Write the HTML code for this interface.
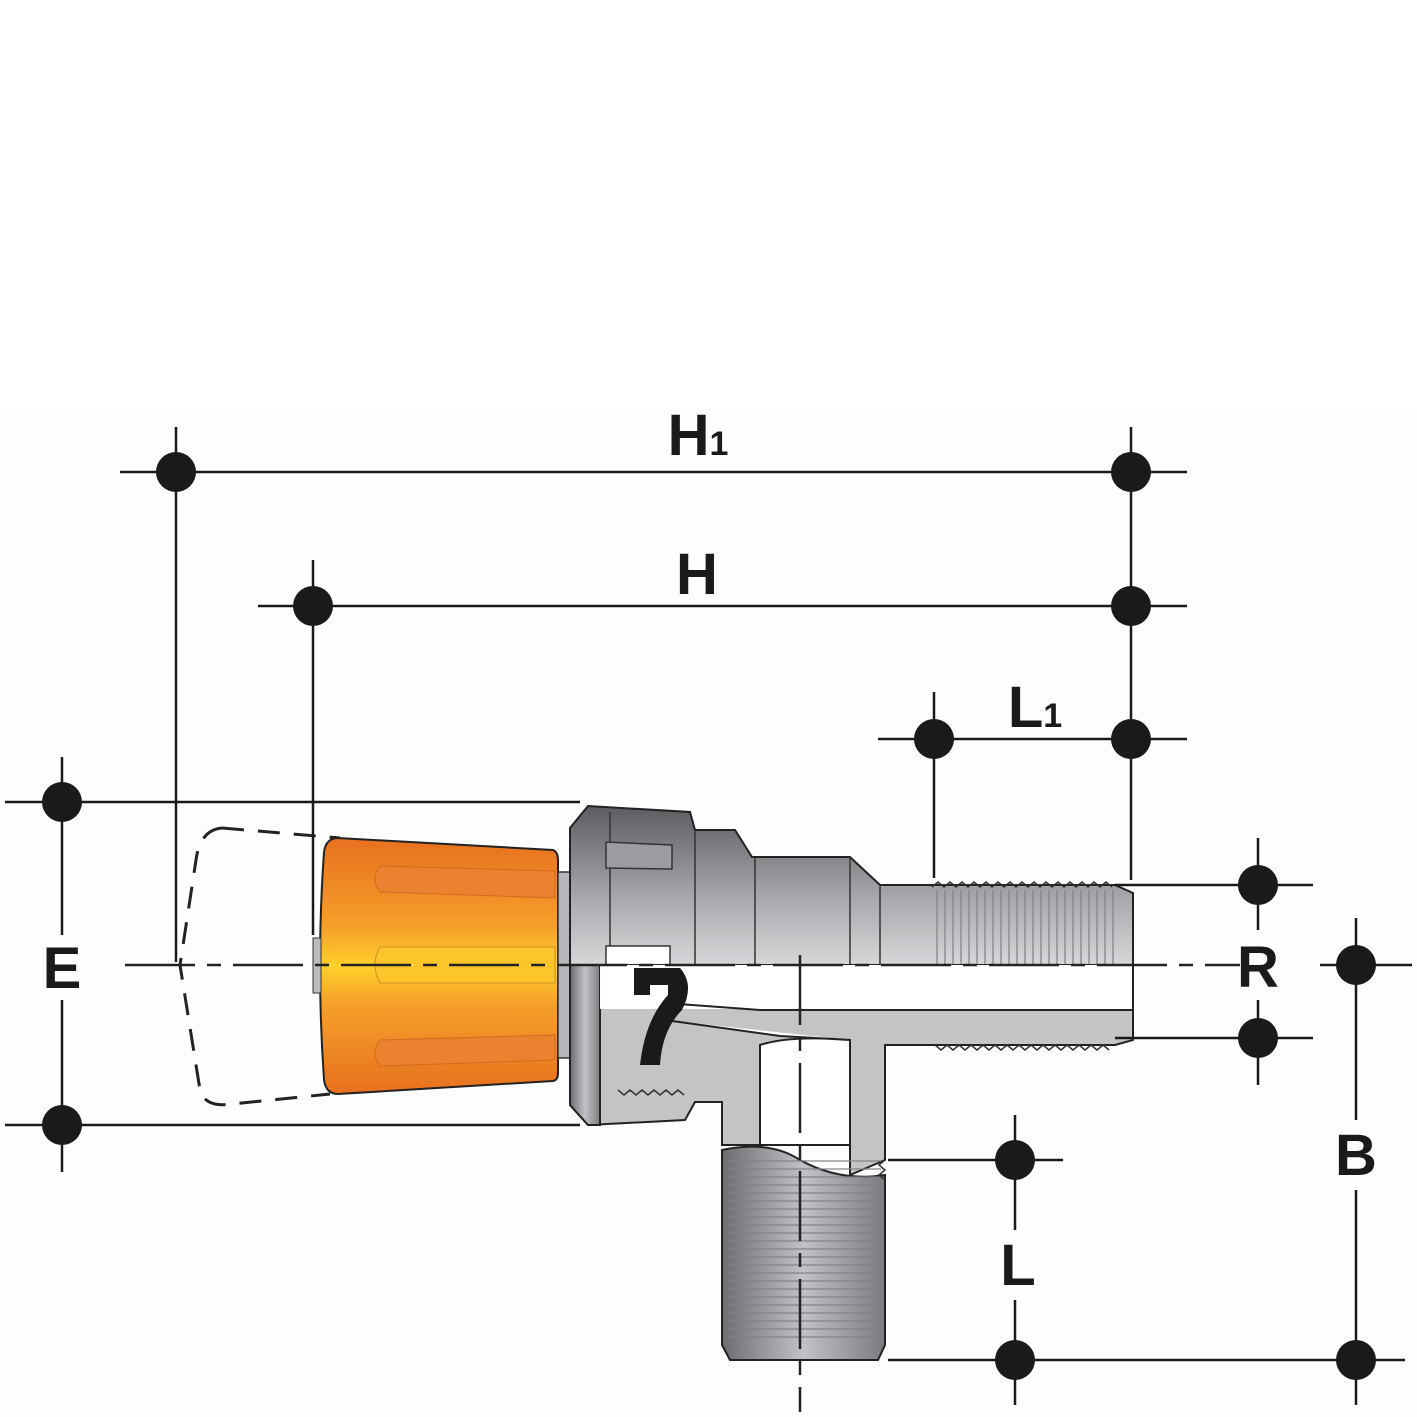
<!DOCTYPE html>
<html><head><style>html,body{margin:0;padding:0;background:#fff}svg{display:block}</style></head>
<body>
<svg width="1417" height="1417" viewBox="0 0 1417 1417" xmlns="http://www.w3.org/2000/svg">
<defs>
<linearGradient id="or" x1="0" y1="0" x2="0" y2="1">
<stop offset="0" stop-color="#e8701f"/><stop offset="0.35" stop-color="#f5a02a"/><stop offset="0.5" stop-color="#ffd02a"/><stop offset="0.65" stop-color="#f5a02a"/><stop offset="1" stop-color="#e8701f"/></linearGradient>
<linearGradient id="gr" x1="0" y1="0" x2="0" y2="1">
<stop offset="0" stop-color="#5a5c5f"/><stop offset="0.6" stop-color="#a9abae"/><stop offset="1" stop-color="#d6d7d9"/></linearGradient>
<linearGradient id="gv" x1="0" y1="0" x2="1" y2="0">
<stop offset="0" stop-color="#6a6c6f"/><stop offset="0.5" stop-color="#c0c2c5"/><stop offset="1" stop-color="#7a7c7f"/></linearGradient>
<pattern id="th" width="8" height="10" patternUnits="userSpaceOnUse"><line x1="1" y1="0" x2="1" y2="10" stroke="#7f8184" stroke-width="1.2"/></pattern>
<pattern id="thv" width="10" height="8" patternUnits="userSpaceOnUse"><line x1="0" y1="1" x2="10" y2="1" stroke="#7f8184" stroke-width="1.2"/></pattern>
</defs>
<rect width="1417" height="1417" fill="#fff"/>
<rect x="0" y="410" width="1417" height="1007" fill="#fdfdfd"/>

<path d="M222,828 Q200,830 196,860 L180,965 L200,1090 Q205,1108 232,1104 L330,1094" fill="none" stroke="#222" stroke-width="3" stroke-dasharray="22,14"/>
<path d="M222,828 L340,838" fill="none" stroke="#222" stroke-width="3" stroke-dasharray="22,14"/>

<path d="M338,838 L553,850 Q558,852 558,860 L558,1073 Q558,1080 553,1081 L338,1094 Q326,1094 324,1080 Q316,965 324,852 Q326,838 338,838Z" fill="url(#or)" stroke="#222" stroke-width="2"/>
<path d="M380,866 L555,871 L555,898 L380,892 Q370,879 380,866Z" fill="#ec8230" stroke="#d06a20" stroke-width="1"/>
<path d="M380,947 L555,947 L555,983 L380,983 Q370,965 380,947Z" fill="#fcc52a" stroke="#d58a2a" stroke-width="1"/>
<path d="M380,1040 L555,1035 L555,1060 L380,1066 Q370,1053 380,1040Z" fill="#ec8230" stroke="#d06a20" stroke-width="1"/>
<rect x="313" y="938" width="8" height="55" fill="#bbb" stroke="#333"/>
<rect x="558" y="872" width="14" height="186" fill="#b5b7ba" stroke="#333" stroke-width="1.5"/>

<path d="M570,965 L570,828 L588,806 L690,812 L695,830 L735,830 L752,857 L850,857 L880,885 L1115,885 L1133,893 L1133,965Z" fill="url(#gr)" stroke="#222" stroke-width="2"/>
<rect x="932" y="890" width="183" height="75" fill="url(#th)"/>
<path d="M932,887 l6,-5 6,5 6,-5 6,5 6,-5 6,5 6,-5 6,5 6,-5 6,5 6,-5 6,5 6,-5 6,5 6,-5 6,5 6,-5 6,5 6,-5 6,5 6,-5 6,5 6,-5 6,5 6,-5 6,5 6,-5 6,5 6,-5 6,5" fill="none" stroke="#333" stroke-width="1.5"/>
<line x1="610" y1="812" x2="610" y2="1120" stroke="#333" stroke-width="1.5"/>
<line x1="695" y1="830" x2="695" y2="965" stroke="#333" stroke-width="1.5"/>
<line x1="755" y1="857" x2="755" y2="965" stroke="#333" stroke-width="1.5"/>
<line x1="850" y1="857" x2="850" y2="965" stroke="#333" stroke-width="1.5"/>
<line x1="880" y1="885" x2="880" y2="965" stroke="#333" stroke-width="1.5"/>
<path d="M606,842 L672,845 L672,869 L606,868Z" fill="#9a9c9f" stroke="#333" stroke-width="1.5"/>
<rect x="606" y="946" width="64" height="19" fill="#fff" stroke="#333" stroke-width="1.5"/>

<path d="M570,965 L570,1105 L588,1125 L685,1120 L695,1102 L722,1102 L722,1145 L850,1145 L850,1175 L885,1160 L885,1045 L935,1045 L1115,1045 L1133,1040 L1133,965Z" fill="#c3c4c6" stroke="#222" stroke-width="2"/>
<path d="M570,965 L570,1105 L588,1125 L600,1125 L600,965Z" fill="url(#gv)" stroke="#222" stroke-width="2"/>
<rect x="600" y="965" width="533" height="44" fill="#fff"/>
<path d="M665,1003 L760,1010 L1133,1010 L1133,965" fill="none" stroke="#222" stroke-width="2"/>
<path d="M665,1020 L780,1036 L850,1040 L850,1145 L760,1145 L760,1045 Q790,1035 850,1040" fill="#fff" stroke="#222" stroke-width="2"/>
<path d="M935,1045 l6,5 6,-5 6,5 6,-5 6,5 6,-5 6,5 6,-5 6,5 6,-5 6,5 6,-5 6,5 6,-5 6,5 6,-5 6,5 6,-5 6,5 6,-5 6,5 6,-5 6,5 6,-5 6,5 6,-5 6,5 6,-5 6,5" fill="none" stroke="#333" stroke-width="1.5"/>
<path d="M618,1090 l6,5 6,-5 6,5 6,-5 6,5 6,-5 6,5 6,-5 6,5 6,-5 6,5" fill="none" stroke="#333" stroke-width="1.5"/>
<path d="M634,968 L680,968 Q695,985 682,1010 Q662,1030 660,1065 L640,1065 Q645,1020 668,995 L668,985 L650,985 L650,995 L634,995Z" fill="#1a1a1a"/>

<path d="M722,1150 Q770,1140 800,1160 Q840,1182 885,1175 L885,1345 L878,1360 L730,1360 L722,1345Z" fill="url(#gv)" stroke="#222" stroke-width="2"/>
<rect x="726" y="1160" width="155" height="180" fill="url(#thv)"/>
<path d="M885,1160 l-6,5 6,5 -6,5 6,5" fill="none" stroke="#333" stroke-width="1.5"/>

<line x1="125" y1="965" x2="1240" y2="965" stroke="#222" stroke-width="2.5" stroke-dasharray="70,12,14,12"/>
<line x1="800" y1="955" x2="800" y2="1412" stroke="#222" stroke-width="2.5" stroke-dasharray="70,12,14,12"/>

<g stroke="#1a1a1a" stroke-width="2.5" fill="none">
<line x1="120" y1="472" x2="1187" y2="472"/>
<line x1="258" y1="606" x2="1187" y2="606"/>
<line x1="878" y1="739" x2="1187" y2="739"/>
<line x1="176" y1="427" x2="176" y2="962"/>
<line x1="1131" y1="427" x2="1131" y2="880"/>
<line x1="313" y1="560" x2="313" y2="935"/>
<line x1="934" y1="692" x2="934" y2="878"/>
<line x1="5" y1="802" x2="580" y2="802"/>
<line x1="5" y1="1125" x2="580" y2="1125"/>
<line x1="62" y1="757" x2="62" y2="935"/>
<line x1="62" y1="1000" x2="62" y2="1172"/>
<line x1="1115" y1="885" x2="1313" y2="885"/>
<line x1="1115" y1="1038" x2="1313" y2="1038"/>
<line x1="1258" y1="838" x2="1258" y2="930"/>
<line x1="1258" y1="1000" x2="1258" y2="1085"/>
<line x1="1320" y1="965" x2="1412" y2="965"/>
<line x1="1356" y1="918" x2="1356" y2="1120"/>
<line x1="1356" y1="1190" x2="1356" y2="1405"/>
<line x1="888" y1="1160" x2="1063" y2="1160"/>
<line x1="888" y1="1360" x2="1405" y2="1360"/>
<line x1="1015" y1="1115" x2="1015" y2="1230"/>
<line x1="1015" y1="1300" x2="1015" y2="1405"/>
</g>
<g fill="#1a1a1a">
<circle cx="176" cy="472" r="20"/><circle cx="1131" cy="472" r="20"/>
<circle cx="313" cy="606" r="20"/><circle cx="1131" cy="606" r="20"/>
<circle cx="934" cy="739" r="20"/><circle cx="1131" cy="739" r="20"/>
<circle cx="62" cy="802" r="20"/><circle cx="62" cy="1125" r="20"/>
<circle cx="1258" cy="885" r="20"/><circle cx="1258" cy="1038" r="20"/>
<circle cx="1356" cy="965" r="20"/><circle cx="1356" cy="1360" r="20"/>
<circle cx="1015" cy="1160" r="20"/><circle cx="1015" cy="1360" r="20"/>
</g>
<g font-family="'Liberation Sans',sans-serif" font-size="58" fill="#1a1a1a" text-anchor="middle" font-weight="bold">
<text x="698" y="455">H<tspan font-size="34">1</tspan></text>
<text x="697" y="594">H</text>
<text x="1035" y="727">L<tspan font-size="34">1</tspan></text>
<text x="62" y="988">E</text>
<text x="1258" y="987">R</text>
<text x="1356" y="1175">B</text>
<text x="1018" y="1285">L</text>
</g>
</svg>
</body></html>
